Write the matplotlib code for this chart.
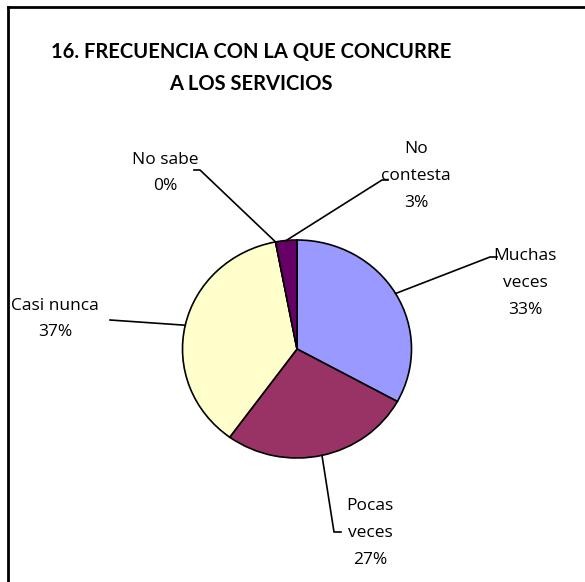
import numpy as np
import matplotlib
matplotlib.use("Agg")
import matplotlib.pyplot as plt
from matplotlib.lines import Line2D

title = "16. FRECUENCIA CON LA QUE CONCURRE\nA LOS SERVICIOS"
categories = ["Muchas\nveces", "Pocas\nveces", "Casi nunca", "No sabe", "No\ncontesta"]
values = [33, 27, 37, 0, 3]
colors = ["#9999FF", "#993366", "#FFFFCC", "#FFFFFF", "#660066"]

# label text positions (pixels, top-left origin) and leader elbow points
label_pos = [(525, 283), (370, 533), (55, 319), (165, 173), (416, 176)]
elbows = [[(490, 257), (497, 257)], [(334, 532), (341, 532)], [(110, 320)],
          [(200, 170), (194, 170)], [(382, 180), (388, 180)]]

W, H = 585, 582
CX, CY, RX, RY = 297.0, 349.0, 114.5, 109.0  # pie centre / radii in pixels


def px2d(x, y):
    return (x - CX) / RX, (CY - y) / RY


fig = plt.figure(figsize=(W / 100, H / 100), dpi=100)
ax = fig.add_axes([0, 0, 1, 1])
ax.pie(values, colors=colors, startangle=90, counterclock=False,
       center=(0, 0), radius=1,
       wedgeprops=dict(edgecolor="black", linewidth=1.2))
ax.set_aspect("auto")
x0, y1 = px2d(0, 0)
x1, y0 = px2d(W, H)
ax.set_xlim(x0, x1)
ax.set_ylim(y0, y1)
ax.axis("off")

# frame
fig.add_artist(Line2D([8 / W, 8 / W], [0, 1 - 7 / H], transform=fig.transFigure, color="black", lw=2))
fig.add_artist(Line2D([8 / W, 1], [1 - 7 / H, 1 - 7 / H], transform=fig.transFigure, color="black", lw=2))

fam = ["Open Sans", "DejaVu Sans"]
tx, ty = px2d(251, 68)
ax.text(tx, ty, title, ha="center", va="center", fontsize=14.5, fontweight="bold",
        family=["Lato", "DejaVu Sans"], linespacing=1.8)

total = sum(values)
start = 90.0
for i, (cat, v) in enumerate(zip(categories, values)):
    span = 360.0 * v / total
    mid = np.deg2rad(start - span / 2)
    start -= span
    sx, sy = np.cos(mid), np.sin(mid)
    pts = [px2d(*e) for e in elbows[i]]
    ax.plot([sx] + [p[0] for p in pts], [sy] + [p[1] for p in pts], color="black", lw=1.2)
    lx, ly = px2d(*label_pos[i])
    ax.text(lx, ly, f"{cat}\n{v}%", ha="center", va="center", fontsize=12.5,
            family=fam, linespacing=1.88)

fig.savefig("out.png", dpi=100, facecolor="white")
